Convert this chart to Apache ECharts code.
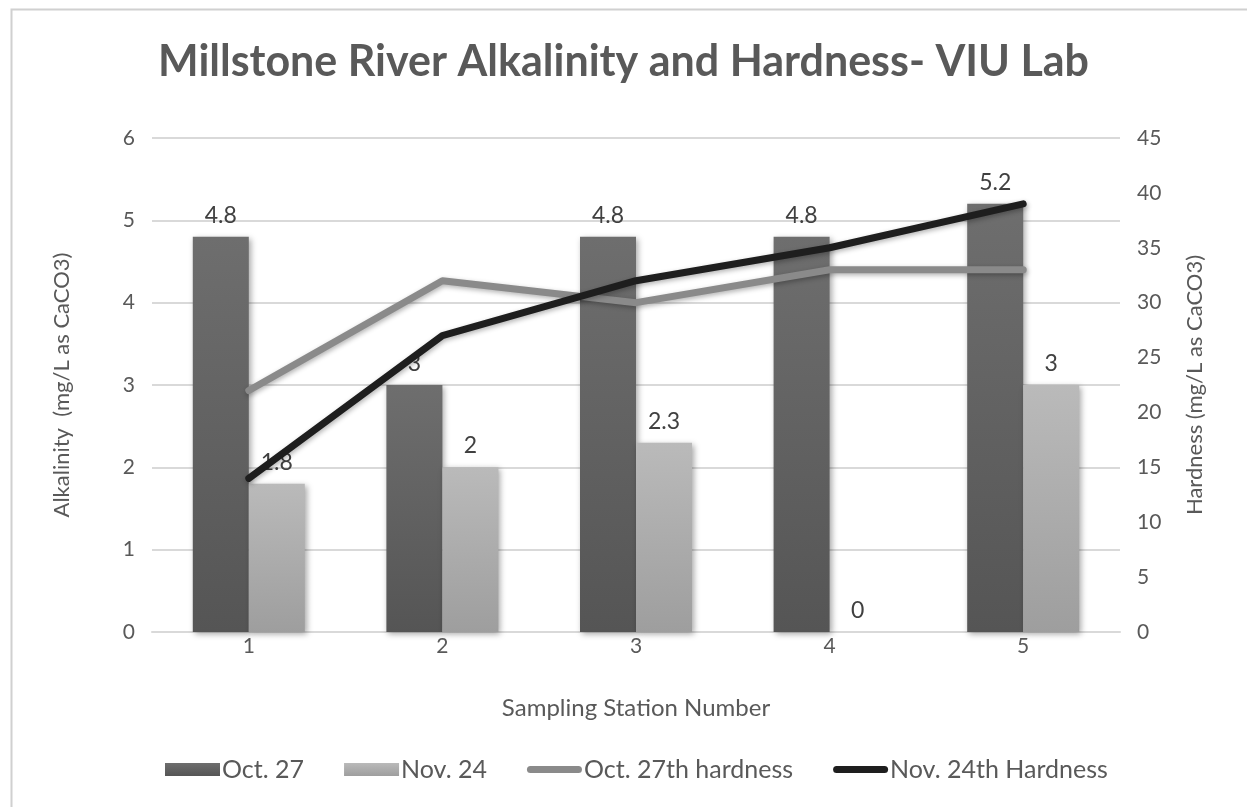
<!DOCTYPE html>
<html>
<head>
<meta charset="utf-8">
<script src="https://cdn.jsdelivr.net/npm/echarts@6/dist/echarts.min.js"></script>
<style>
  html, body { margin: 0; padding: 0; background: #ffffff; }
  #chart { width: 1247px; height: 807px; }
</style>
</head>
<body>
<div id="chart"></div>
<script>
// Sampling stations along the Millstone River
const stations = ['1', '2', '3', '4', '5'];

// Alkalinity (mg/L as CaCO3)
const alkOct27 = [4.8, 3, 4.8, 4.8, 5.2];
const alkNov24 = [1.8, 2, 2.3, 0, 3];

// Hardness (mg/L as CaCO3)
const hardOct27 = [22, 32, 30, 33, 33];
const hardNov24 = [14, 27, 32, 35, 39];

const seriesNames = ['Oct. 27', 'Nov. 24', 'Oct. 27th hardness', 'Nov. 24th Hardness'];

const FONT = 'Lato, "Open Sans", sans-serif';
const TEXT = '#595959';

function vGrad(top, bottom) {
  return new echarts.graphic.LinearGradient(0, 0, 0, 1, [
    { offset: 0, color: top },
    { offset: 1, color: bottom }
  ]);
}
const darkFill = vGrad('#6e6e6e', '#555555');
const lightFill = vGrad('#bababa', '#9e9e9e');

const barShadow = {
  shadowBlur: 6,
  shadowOffsetX: 2,
  shadowOffsetY: 2,
  shadowColor: 'rgba(0,0,0,0.35)'
};

const barLabel = {
  show: true,
  position: 'top',
  distance: 10,
  fontFamily: FONT,
  fontSize: 23,
  color: '#404040'
};

// Thick rounded stroke used as the legend swatch for the two lines
// (the leading moves pin the swatch box to 55 x 13)
const lineSwatch = 'path://M0,0 M0,13 M3.5,3 L51.5,3 A3.5,3.5 0 0 1 51.5,10 L3.5,10 A3.5,3.5 0 0 1 3.5,3 Z';

const lineShadow = { shadowBlur: 5, shadowOffsetX: 1, shadowOffsetY: 2, shadowColor: 'rgba(0,0,0,0.3)' };

const chart = echarts.init(document.getElementById('chart'), null, { renderer: 'canvas' });

chart.setOption({
  animation: false,
  backgroundColor: '#ffffff',
  textStyle: { fontFamily: FONT },
  graphic: [{
    type: 'rect',
    left: 9, top: 7,
    shape: { width: 1260, height: 820 },
    style: { fill: 'none', stroke: '#d0d0d0', lineWidth: 2 },
    silent: true,
    z: -1
  }],
  title: {
    text: 'Millstone River Alkalinity and Hardness- VIU Lab',
    left: 'center',
    top: 36,
    textStyle: { fontFamily: FONT, fontWeight: 'bold', fontSize: 43, color: TEXT }
  },
  legend: {
    bottom: 20,
    left: 160,
    itemGap: 40,
    itemWidth: 55,
    itemHeight: 13,
    textStyle: { fontFamily: FONT, fontSize: 25, color: TEXT, padding: [0, 0, 0, -3] },
    data: [
      { name: seriesNames[0], icon: 'rect' },
      { name: seriesNames[1], icon: 'rect' },
      { name: seriesNames[2], icon: lineSwatch },
      { name: seriesNames[3], icon: lineSwatch }
    ]
  },
  grid: { left: 152, right: 127, top: 138, bottom: 175 },
  xAxis: {
    type: 'category',
    data: stations,
    name: 'Sampling Station Number',
    nameLocation: 'middle',
    nameGap: 64,
    nameTextStyle: { fontFamily: FONT, fontSize: 24, color: TEXT },
    axisLine: { lineStyle: { color: '#d9d9d9', width: 2 } },
    axisTick: { show: false },
    axisLabel: { fontFamily: FONT, fontSize: 21, color: TEXT, margin: 4 }
  },
  yAxis: [
    {
      type: 'value',
      min: 0, max: 6, interval: 1,
      name: 'Alkalinity  (mg/L as CaCO3)',
      nameLocation: 'middle',
      nameGap: 79,
      nameTextStyle: { fontFamily: FONT, fontSize: 22, color: TEXT },
      axisLine: { show: false },
      axisTick: { show: false },
      axisLabel: { fontFamily: FONT, fontSize: 21, color: TEXT, margin: 17 },
      splitLine: { lineStyle: { color: '#d9d9d9', width: 2 } }
    },
    {
      type: 'value',
      min: 0, max: 45, interval: 5,
      name: 'Hardness (mg/L as CaCO3)',
      nameLocation: 'middle',
      nameGap: 64,
      nameTextStyle: { fontFamily: FONT, fontSize: 22, color: TEXT },
      axisLine: { show: false },
      axisTick: { show: false },
      axisLabel: { fontFamily: FONT, fontSize: 21, color: TEXT, margin: 17 },
      splitLine: { show: false }
    }
  ],
  series: [
    {
      name: seriesNames[0],
      type: 'bar',
      yAxisIndex: 0,
      data: alkOct27,
      barWidth: 56,
      barGap: '0%',
      itemStyle: Object.assign({ color: darkFill }, barShadow),
      label: barLabel
    },
    {
      name: seriesNames[1],
      type: 'bar',
      yAxisIndex: 0,
      data: alkNov24,
      barWidth: 56,
      barGap: '0%',
      itemStyle: Object.assign({ color: lightFill }, barShadow),
      label: barLabel
    },
    {
      name: seriesNames[2],
      type: 'line',
      yAxisIndex: 1,
      data: hardOct27,
      symbol: 'none',
      itemStyle: { color: '#8a8a8a' },
      lineStyle: Object.assign({ color: '#8a8a8a', width: 7, cap: 'round', join: 'round' }, lineShadow),
      z: 3
    },
    {
      name: seriesNames[3],
      type: 'line',
      yAxisIndex: 1,
      data: hardNov24,
      symbol: 'none',
      itemStyle: { color: '#1e1e1e' },
      lineStyle: Object.assign({ color: '#1e1e1e', width: 7, cap: 'round', join: 'round' }, lineShadow),
      z: 4
    }
  ]
});
</script>
</body>
</html>
